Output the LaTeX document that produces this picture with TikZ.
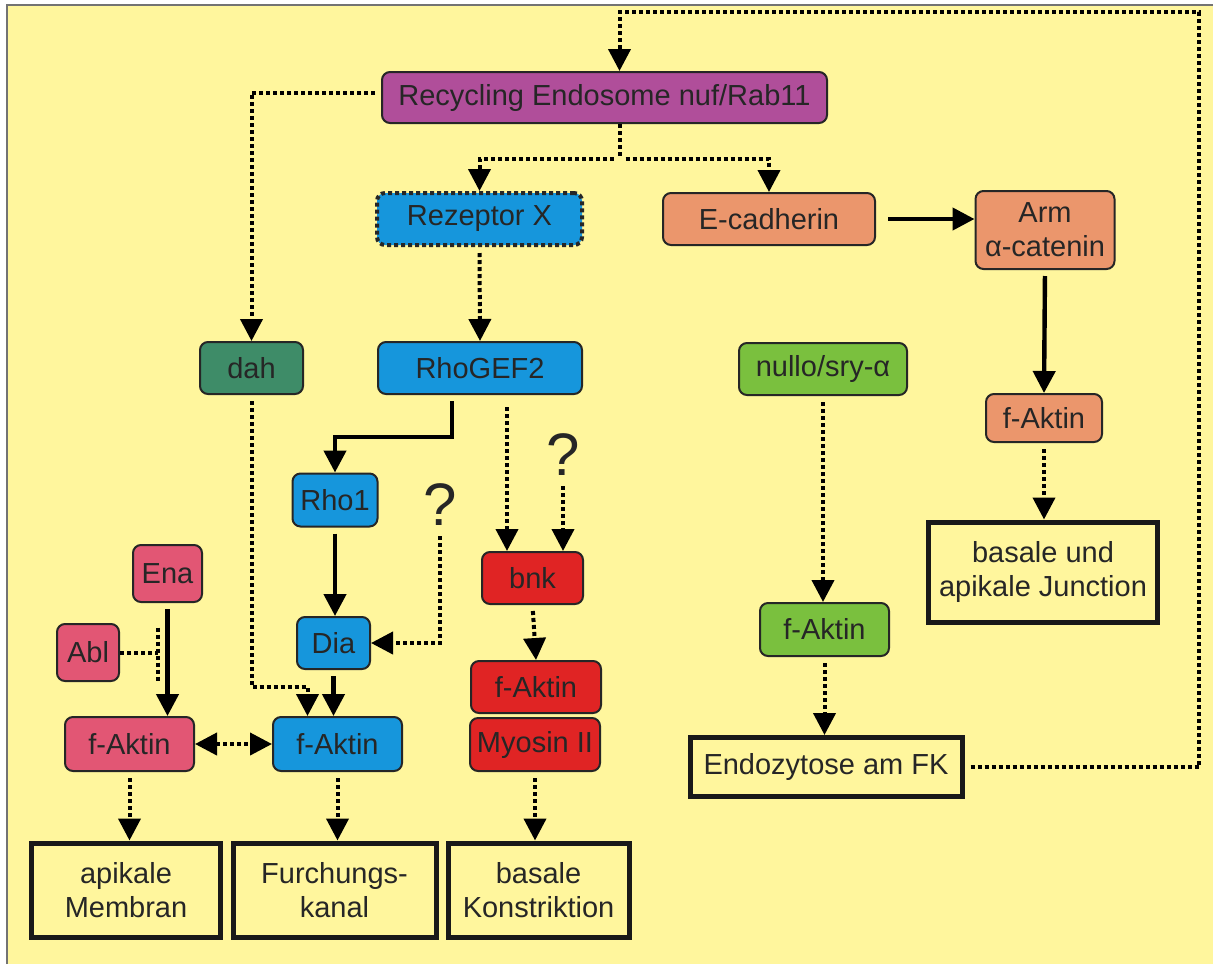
\documentclass[tikz,border=0pt]{standalone}
\usepackage{fontspec}
\setmainfont{Liberation Sans}
\usetikzlibrary{arrows.meta,positioning,calc}

\definecolor{bggelb}{RGB}{255,246,157}
\definecolor{magenta}{RGB}{176,78,154}
\definecolor{blau}{RGB}{22,150,220}
\definecolor{orange}{RGB}{235,150,108}
\definecolor{dunkelgruen}{RGB}{62,140,104}
\definecolor{hellgruen}{RGB}{122,192,62}
\definecolor{rosa}{RGB}{226,86,116}
\definecolor{rot}{RGB}{224,36,36}

\begin{document}
\begin{tikzpicture}[x=0.5pt, y=-0.5pt,
  every node/.style={font=\fontsize{14.5}{17}\selectfont, text=black!85},
  box/.style={draw=black!85, line width=1pt, rounded corners=4pt, inner sep=0pt, align=center},
  ergebnis/.style={draw=black!90, line width=2.5pt, inner sep=0pt, align=center},
  pfeil/.style={line width=2.2pt, shorten <=3pt, -{Triangle[width=11pt,length=11pt]}},
  punkt/.style={line width=2pt, dash pattern=on 2pt off 1.5pt},
  punktpfeil/.style={punkt, shorten <=3pt, -{Triangle[width=11pt,length=11pt]}},
  doppelpfeil/.style={punkt, {Triangle[width=11pt,length=11pt]}-{Triangle[width=11pt,length=11pt]}},
  frage/.style={font=\fontsize{30}{32}\selectfont, inner sep=0pt}]
\useasboundingbox (0,0) rectangle (1213,964);
\fill[white] (0,0) rectangle (1213,964);
\fill[bggelb] (7,5) rectangle (1213,964);
\draw[black!55, line width=1pt] (7,964) -- (7,5) -- (1213,5);

% Knoten
\node[box, fill=magenta, minimum width=222.5pt, minimum height=25.5pt] (rec) at (604.5,97.5) {Recycling Endosome nuf/Rab11};
\node[box, fill=blau, punkt, minimum width=102.5pt, minimum height=26pt] (rez) at (479.5,219) {Rezeptor X};
\node[box, fill=orange, minimum width=106pt, minimum height=26pt] (ecad) at (769,219) {E-cadherin};
\node[box, fill=orange, minimum width=69.5pt, minimum height=39pt] (arm) at (1045,230) {Arm\\α-catenin};
\node[box, fill=dunkelgruen, minimum width=51.5pt, minimum height=26pt] (dah) at (251.5,368) {dah};
\node[box, fill=blau, minimum width=102pt, minimum height=26pt] (rhogef) at (480,368) {RhoGEF2};
\node[box, fill=hellgruen, minimum width=84pt, minimum height=26pt] (nullo) at (823,369) {nullo/sry-α};
\node[box, fill=orange, minimum width=58pt, minimum height=24pt] (aktinO) at (1044,418) {f-Aktin};
\node[ergebnis, minimum width=114.5pt, minimum height=50pt] (junc) at (1043,572) {basale und\\apikale Junction};
\node[box, fill=blau, minimum width=42.5pt, minimum height=26.5pt] (rho) at (335,500) {Rho1};
\node[frage] (qa) at (440,505) {?};
\node[frage] (qb) at (563,455) {?};
\node[box, fill=rosa, minimum width=34.5pt, minimum height=28.5pt] (ena) at (167.5,573.5) {Ena};
\node[box, fill=rosa, minimum width=31pt, minimum height=28.5pt] (abl) at (88,652.5) {Abl};
\node[box, fill=blau, minimum width=36.5pt, minimum height=26pt] (dia) at (333.5,643) {Dia};
\node[box, fill=rot, minimum width=50.5pt, minimum height=26pt] (bnk) at (532.5,578) {bnk};
\node[box, fill=hellgruen, minimum width=64.5pt, minimum height=26.5pt] (aktinG) at (824.5,629.5) {f-Aktin};
\node[box, fill=rot, minimum width=65pt, minimum height=26pt] (aktinR) at (536,687) {f-Aktin};
\node[box, fill=rot, minimum width=65pt, minimum height=26.5pt] (myo) at (535,744.5) {Myosin II};
\node[box, fill=rosa, minimum width=64.5pt, minimum height=27pt] (aktinP) at (129.5,744) {f-Aktin};
\node[box, fill=blau, minimum width=64.5pt, minimum height=27pt] (aktinB) at (337.5,744) {f-Aktin};
\node[ergebnis, minimum width=136pt, minimum height=29.5pt] (endo) at (826,767) {Endozytose am FK};
\node[ergebnis, minimum width=94.5pt, minimum height=47pt] (memb) at (126,890) {apikale\\Membran};
\node[ergebnis, minimum width=101.5pt, minimum height=47pt] (furch) at (334.5,890) {Furchungs-\\kanal};
\node[ergebnis, minimum width=90.5pt, minimum height=47pt] (konst) at (538.5,890) {basale\\Konstriktion};

% Rueckweg zum Endosom
\coordinate (eck) at (1199,12);
\draw[punktpfeil] (endo.east) -| (eck) -| ([xshift=7.5pt]rec.north);
\draw[punktpfeil] ([yshift=2.5pt]rec.west) -| (dah.north);
\draw[punkt] ([xshift=7.5pt]rec.south) -- ++(0,35) coordinate (split);
\draw[punktpfeil] (split) -| (rez.north);
\draw[punktpfeil] (split) -| (ecad.north);
\draw[punktpfeil] (rez.south) -- (rhogef.north);

% rechter Zweig
\draw[pfeil, shorten <=6pt] (ecad.east) -- (ecad.east -| arm.west);
\draw[pfeil] (arm.south) -- (aktinO.north);
\draw[punktpfeil] (aktinO.south) -- (aktinO.south |- junc.north);
\draw[punktpfeil] (nullo.south) -- (nullo.south |- aktinG.north);
\draw[punktpfeil] (aktinG.south) -- (aktinG.south |- endo.north);

% RhoGEF2
\draw[pfeil] ([xshift=-14pt]rhogef.south) -- ++(0,42) -| (rho.north);
\draw[punktpfeil, shorten <=6pt] ([xshift=13.5pt]rhogef.south) -- ([xshift=13.5pt]rhogef.south |- bnk.north);
\draw[punktpfeil, shorten <=5pt] (qb.south) -- (qb.south |- bnk.north);
\draw[punktpfeil, shorten <=5pt] (qa.south) |- (dia.east);
\draw[pfeil] (rho.south) -- (rho.south |- dia.north);
\draw[pfeil] (dia.south) -- (dia.south |- aktinB.north);
\draw[punktpfeil] (dah.south) -- ++(0,292) -| ([xshift=-15pt]aktinB.north);
\draw[punktpfeil] (bnk.south) -- (aktinR.north);

% Ena / Abl
\draw[pfeil] (ena.south) -- (ena.south |- aktinP.north);
\draw[punkt] (abl.east) -- ++(38,0) coordinate (ablende);
\draw[punkt] (ablende) ++(0,-25) -- ++(0,54);
\draw[doppelpfeil] (aktinP.east) -- (aktinB.west);

% Ergebnisse
\draw[punktpfeil] (aktinP.south) -- (aktinP.south |- memb.north);
\draw[punktpfeil] (aktinB.south) -- (aktinB.south |- furch.north);
\draw[punktpfeil] (myo.south) -- (myo.south |- konst.north);
\end{tikzpicture}
\end{document}
